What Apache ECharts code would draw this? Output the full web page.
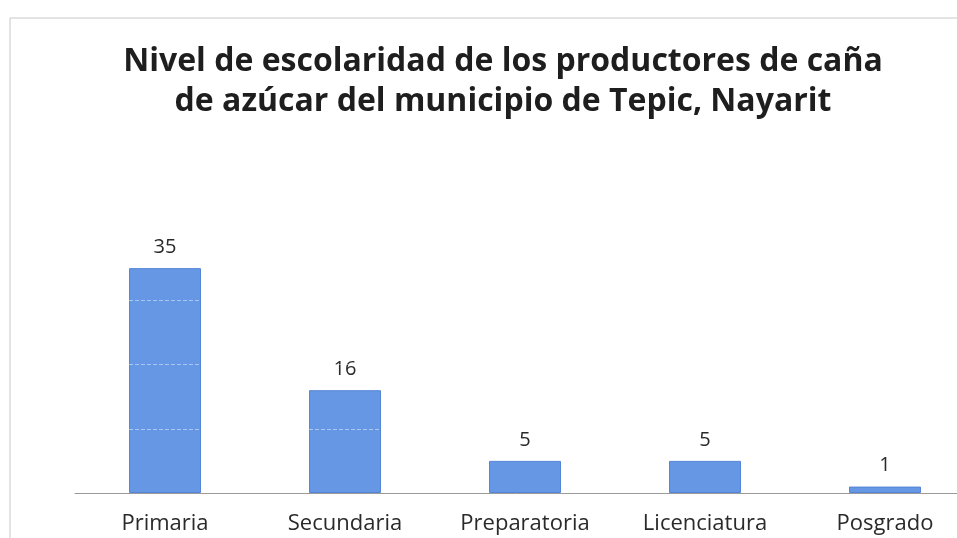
<!DOCTYPE html>
<html>
<head>
<meta charset="utf-8">
<script src="https://cdn.jsdelivr.net/npm/echarts@6/dist/echarts.min.js"></script>
<style>
  html, body { margin: 0; padding: 0; background: #fff; }
  #chart { width: 957px; height: 538px; }
</style>
</head>
<body>
<div id="chart"></div>
<script>
// niveles de escolaridad
const niveles = ["Primaria", "Secundaria", "Preparatoria", "Licenciatura", "Posgrado"];
const productores = [35, 16, 5, 5, 1];
const yTicks = [0, 10, 20, 30, 40];
const gridInternos = [10, 20, 30];

const chart = echarts.init(document.getElementById("chart"));
const option = {
  backgroundColor: "#ffffff",
  title: {
    text: "Nivel de escolaridad de los productores de caña\nde azúcar del municipio de Tepic, Nayarit",
    left: 498,
    textAlign: "center",
    top: 37,
    textStyle: {
      fontFamily: "Open Sans",
      fontWeight: "bold",
      fontSize: 32,
      lineHeight: 40,
      color: "#1e1e1e",
    },
  },
  graphic: [
    {
      type: "rect",
      shape: { x: 10, y: 18, width: 1000, height: 600 },
      style: { fill: "none", stroke: "#c8c8c8", lineWidth: 1 },
      silent: true,
    },
  ],
  grid: {
    left: 75,
    width: 900,
    top: 236,
    bottom: 45,
    outerBoundsMode: "none",
    containLabel: false,
  },
  xAxis: {
    type: "category",
    data: niveles,
    axisLine: { lineStyle: { color: "#9a9a9a", width: 1 } },
    axisTick: { show: false },
    axisLabel: {
      fontFamily: "Open Sans",
      fontSize: 22,
      color: "#2a2a2a",
      margin: 20,
    },
  },
  yAxis: {
    type: "value",
    min: yTicks[0],
    max: yTicks[yTicks.length - 1],
    interval: 10,
    axisLine: { show: false },
    axisTick: { show: false },
    axisLabel: { show: false },
    splitLine: { show: false },
  },
  series: [
    {
      type: "bar",
      data: productores,
      barWidth: "40%",
      itemStyle: {
        color: "#6697e4",
        borderColor: "#5585d6",
        borderWidth: 1,
      },
      label: {
        show: true,
        position: "top",
        distance: 11,
        fontFamily: "Open Sans",
        fontSize: 20,
        color: "#2a2a2a",
      },
      // líneas de cuadrícula que se ven a través de las barras
      markLine: {
        silent: true,
        symbol: "none",
        label: { show: false },
        lineStyle: { color: "rgba(255,255,255,0.45)", type: "dashed", width: 1 },
        data: gridInternos.map((v) => ({ yAxis: v })),
      },
    },
  ],
};
option && chart.setOption(option);
</script>
</body>
</html>
